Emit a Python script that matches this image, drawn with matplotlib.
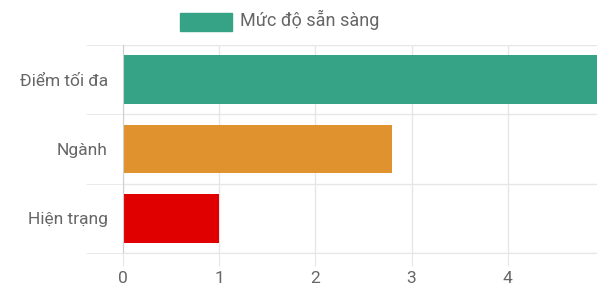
import matplotlib.pyplot as plt
import numpy as np

plt.rcParams['font.family'] = ['Roboto', 'DejaVu Sans']

categories = ["Điểm tối đa", "Ngành", "Hiện trạng"]
values = [5, 2.8, 1]
bar_colors = ["#36a386", "#e0922f", "#e00000"]
legend_label = "Mức độ sẵn sàng"
x_ticks = [0, 1, 2, 3, 4, 5]

W, H = 597, 288
fig = plt.figure(figsize=(W / 100, H / 100), dpi=100)
# axes box in pixels: left 123, right 604 (cut off), top 45, bottom 253
left, right, top, bottom = 123, 604, 45, 253
ax = fig.add_axes([left / W, 1 - bottom / H, (right - left) / W, (bottom - top) / H])

y = np.arange(len(categories))
ax.barh(y, values, height=0.7, color=bar_colors, zorder=2)
ax.set_ylim(len(categories) - 0.5, -0.5)
ax.set_xlim(0, 5)

grid_c = "#e6e6e6"
text_c = "#666666"
fs = 12.5

# vertical gridlines + tick marks
ax.set_xticks(x_ticks)
ax.set_xticklabels([str(t) for t in x_ticks])
ax.xaxis.grid(True, color=grid_c, linewidth=1, zorder=0)
ax.tick_params(axis='x', length=9, color=grid_c, labelcolor=text_c,
               labelsize=fs, pad=4)

# horizontal gridlines at category boundaries
bounds = np.arange(len(categories) + 1) - 0.5
ax.set_yticks(bounds, minor=True)
ax.yaxis.grid(True, which='minor', color=grid_c, linewidth=1, zorder=0)
ax.tick_params(axis='y', which='minor', length=27, color=grid_c)
ax.set_yticks(y)
ax.set_yticklabels(categories)
ax.tick_params(axis='y', which='major', length=0, labelcolor=text_c,
               labelsize=fs, pad=11)

for s in ['top', 'right']:
    ax.spines[s].set_visible(False)
ax.spines['left'].set_color("#cfcfcf")
ax.spines['bottom'].set_color(grid_c)

# legend
fig.patches.append(plt.Rectangle((180 / W, 1 - 31 / H), 52 / W, 18 / H,
                                 transform=fig.transFigure, color=bar_colors[0]))
fig.text(240 / W, 1 - 20 / H, legend_label, color=text_c, fontsize=13,
         va='center', ha='left')

fig.savefig("out.png", dpi=100, facecolor='white')
